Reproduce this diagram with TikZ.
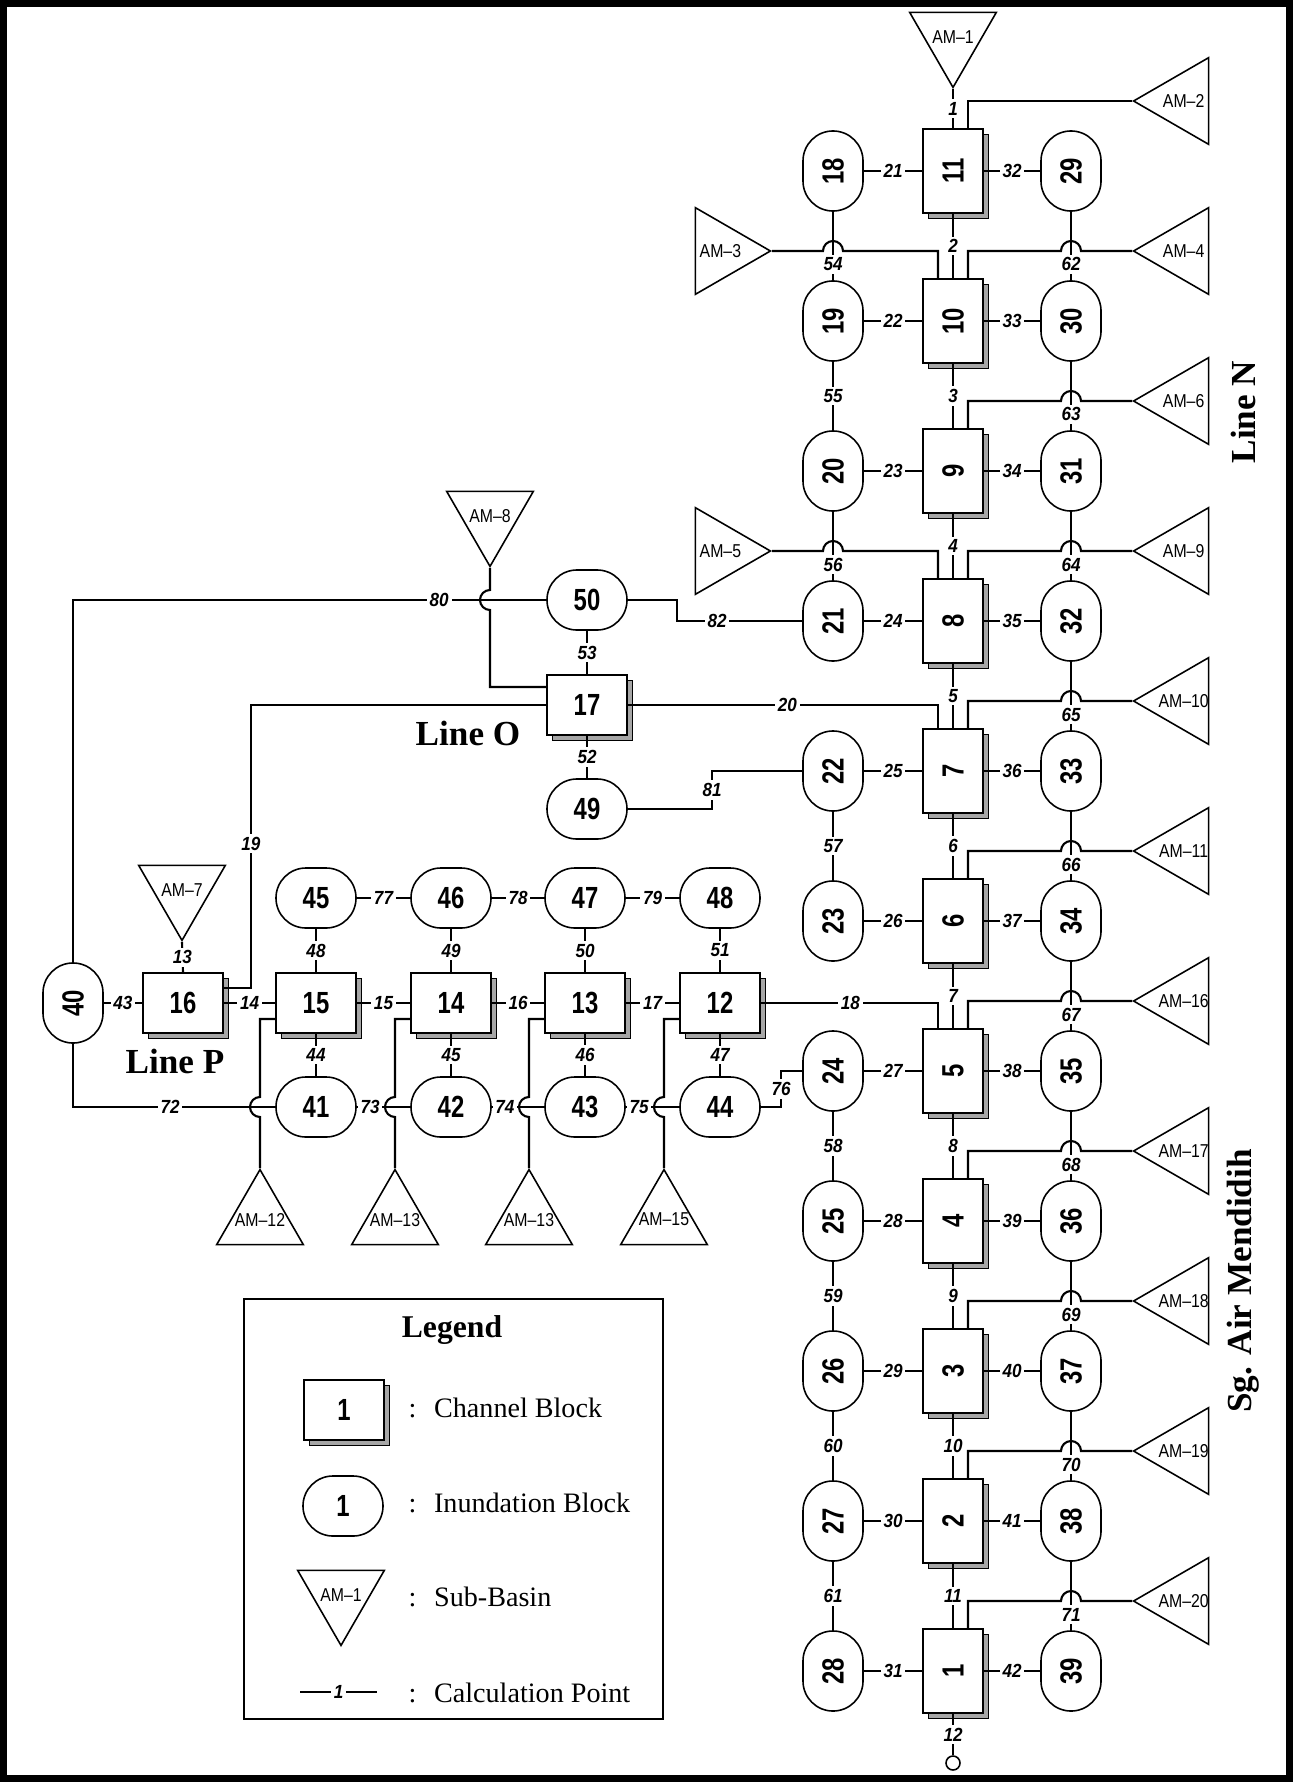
\documentclass[tikz,border=0pt]{standalone}
\usepackage{fontspec}
\setmainfont{Liberation Serif}
\newfontfamily\blkfont[FakeStretch=0.78]{Liberation Sans}
\newfontfamily\cpfont[FakeStretch=0.9]{Liberation Sans}
\newfontfamily\amfont[FakeStretch=0.85]{Liberation Sans}
\usepackage{graphicx}
\usepackage{tikz}
\usetikzlibrary{positioning,shapes.geometric,shadows}
\newcommand{\vnum}[1]{\rotatebox{90}{#1}}
\newcommand{\am}[1]{\makebox[0pt]{AM–#1}}

\begin{document}
\begin{tikzpicture}[
  x=0.01cm, y=-0.01cm,
  chv/.style={draw,fill=white,line width=0.45pt,minimum width=6mm,minimum height=8.4mm,inner sep=0pt,font=\blkfont\bfseries\fontsize{8.7}{9}\selectfont,general shadow={shadow xshift=0.55mm,shadow yshift=-0.55mm,fill=gray!70,draw=black,line width=0.3pt}},
  chh/.style={chv,minimum width=8mm,minimum height=6mm},
  inv/.style={draw,fill=white,rounded corners=3mm,line width=0.45pt,minimum width=6mm,minimum height=8mm,inner sep=0pt,font=\blkfont\bfseries\fontsize{8.7}{9}\selectfont},
  inh/.style={inv,minimum width=8mm,minimum height=6mm},
  basin/.style={draw,regular polygon,regular polygon sides=3,minimum size=10mm,inner sep=0pt,line width=0.45pt,anchor=corner 1,font=\amfont\fontsize{5.3}{6}\selectfont},
  cp/.style={fill=white,inner sep=0.8pt,font=\cpfont\bfseries\itshape\fontsize{5.4}{5.4}\selectfont},
  link/.style={line width=0.6pt},
  ttl/.style={font=\bfseries\fontsize{10}{12}\selectfont},
  leg/.style={anchor=west,inner sep=0pt,font=\fontsize{8}{10}\selectfont}
]
\useasboundingbox (0,0) rectangle (1296,1782);
\draw[line width=0.7mm] (3.5,4) rectangle (1289,1778);

% Line N / Sg. Air Mendidih : channel blocks
\node[chv] (c11) at (953,171) {\vnum{11}};
\node[chv] (c10) at (953,321) {\vnum{10}};
\node[chv] (c9) at (953,471) {\vnum{9}};
\node[chv] (c8) at (953,621) {\vnum{8}};
\node[chv] (c7) at (953,771) {\vnum{7}};
\node[chv] (c6) at (953,921) {\vnum{6}};
\node[chv] (c5) at (953,1071) {\vnum{5}};
\node[chv] (c4) at (953,1221) {\vnum{4}};
\node[chv] (c3) at (953,1371) {\vnum{3}};
\node[chv] (c2) at (953,1521) {\vnum{2}};
\node[chv] (c1) at (953,1671) {\vnum{1}};
\node[draw,circle,minimum size=1.4mm,inner sep=0pt,line width=0.45pt] (outlet) at (953,1763) {};

% inundation blocks, left and right of the main line
\node[inv] (i18) at (833,171) {\vnum{18}};
\node[inv] (i19) at (833,321) {\vnum{19}};
\node[inv] (i20) at (833,471) {\vnum{20}};
\node[inv] (i21) at (833,621) {\vnum{21}};
\node[inv] (i22) at (833,771) {\vnum{22}};
\node[inv] (i23) at (833,921) {\vnum{23}};
\node[inv] (i24) at (833,1071) {\vnum{24}};
\node[inv] (i25) at (833,1221) {\vnum{25}};
\node[inv] (i26) at (833,1371) {\vnum{26}};
\node[inv] (i27) at (833,1521) {\vnum{27}};
\node[inv] (i28) at (833,1671) {\vnum{28}};
\node[inv] (i29) at (1071,171) {\vnum{29}};
\node[inv] (i30) at (1071,321) {\vnum{30}};
\node[inv] (i31) at (1071,471) {\vnum{31}};
\node[inv] (i32) at (1071,621) {\vnum{32}};
\node[inv] (i33) at (1071,771) {\vnum{33}};
\node[inv] (i34) at (1071,921) {\vnum{34}};
\node[inv] (i35) at (1071,1071) {\vnum{35}};
\node[inv] (i36) at (1071,1221) {\vnum{36}};
\node[inv] (i37) at (1071,1371) {\vnum{37}};
\node[inv] (i38) at (1071,1521) {\vnum{38}};
\node[inv] (i39) at (1071,1671) {\vnum{39}};

% sub-basins
\node[basin,shape border rotate=180] (am1) at (953,89) {\am{1}};
\node[basin,shape border rotate=90] (am2) at (1132,101) {\am{2}};
\node[basin,shape border rotate=270] (am3) at (772,251) {\am{3}};
\node[basin,shape border rotate=90] (am4) at (1132,251) {\am{4}};
\node[basin,shape border rotate=270] (am5) at (772,551) {\am{5}};
\node[basin,shape border rotate=90] (am6) at (1132,401) {\am{6}};
\node[basin,shape border rotate=180] (am7) at (182,942) {\am{7}};
\node[basin,shape border rotate=180] (am8) at (490,568) {\am{8}};
\node[basin,shape border rotate=90] (am9) at (1132,551) {\am{9}};
\node[basin,shape border rotate=90] (am10) at (1132,701) {\am{10}};
\node[basin,shape border rotate=90] (am11) at (1132,851) {\am{11}};
\node[basin] (am12) at (260,1168) {\am{12}};
\node[basin] (am13a) at (395,1168) {\am{13}};
\node[basin] (am13b) at (529,1168) {\am{13}};
\node[basin] (am15) at (664,1168) {\am{15}};
\node[basin,shape border rotate=90] (am16) at (1132,1001) {\am{16}};
\node[basin,shape border rotate=90] (am17) at (1132,1151) {\am{17}};
\node[basin,shape border rotate=90] (am18) at (1132,1301) {\am{18}};
\node[basin,shape border rotate=90] (am19) at (1132,1451) {\am{19}};
\node[basin,shape border rotate=90] (am20) at (1132,1601) {\am{20}};

% Line O and Line P
\node[inh] (i50) at (587,600) {50};
\node[chh] (c17) at (587,705) {17};
\node[inh] (i49) at (587,809) {49};
\node[inv] (i40) at (73,1003) {\vnum{40}};
\node[chh] (c16) at (183,1003) {16};
\node[chh] (c15) at (316,1003) {15};
\node[chh] (c14) at (451,1003) {14};
\node[chh] (c13) at (585,1003) {13};
\node[chh] (c12) at (720,1003) {12};
\node[inh] (i45) at (316,898) {45};
\node[inh] (i46) at (451,898) {46};
\node[inh] (i47) at (585,898) {47};
\node[inh] (i48) at (720,898) {48};
\node[inh] (i41) at (316,1107) {41};
\node[inh] (i42) at (451,1107) {42};
\node[inh] (i43) at (585,1107) {43};
\node[inh] (i44) at (720,1107) {44};

\node[ttl,rotate=90] (lineN) at (1243,412) {Line N};
\node[ttl,rotate=90] (sgair) at (1243,1281) {Sg. Air Mendidih};
\node[ttl] (lineO) at (468,733) {Line O};
\node[ttl] (lineP) at (175,1061) {Line P};

% main line
\draw[link] (am1.corner 1) -- node[cp]{1} (c11.north);
\draw[link] (c11) -- node[cp]{2} (c10);
\draw[link] (c10) -- node[cp]{3} (c9);
\draw[link] (c9) -- node[cp]{4} (c8);
\draw[link] (c8) -- node[cp]{5} (c7);
\draw[link] (c7) -- node[cp]{6} (c6);
\draw[link] (c6) -- node[cp]{7} (c5);
\draw[link] (c5) -- node[cp]{8} (c4);
\draw[link] (c4) -- node[cp]{9} (c3);
\draw[link] (c3) -- node[cp]{10} (c2);
\draw[link] (c2) -- node[cp]{11} (c1);
\draw[link] (c1) -- node[cp]{12} (outlet);

% blocks to inundation blocks
\draw[link] (i18) -- node[cp]{21} (c11);
\draw[link] (i19) -- node[cp]{22} (c10);
\draw[link] (i20) -- node[cp]{23} (c9);
\draw[link] (i21) -- node[cp]{24} (c8);
\draw[link] (i22) -- node[cp]{25} (c7);
\draw[link] (i23) -- node[cp]{26} (c6);
\draw[link] (i24) -- node[cp]{27} (c5);
\draw[link] (i25) -- node[cp]{28} (c4);
\draw[link] (i26) -- node[cp]{29} (c3);
\draw[link] (i27) -- node[cp]{30} (c2);
\draw[link] (i28) -- node[cp]{31} (c1);
\draw[link] (c11) -- node[cp]{32} (i29);
\draw[link] (c10) -- node[cp]{33} (i30);
\draw[link] (c9) -- node[cp]{34} (i31);
\draw[link] (c8) -- node[cp]{35} (i32);
\draw[link] (c7) -- node[cp]{36} (i33);
\draw[link] (c6) -- node[cp]{37} (i34);
\draw[link] (c5) -- node[cp]{38} (i35);
\draw[link] (c4) -- node[cp]{39} (i36);
\draw[link] (c3) -- node[cp]{40} (i37);
\draw[link] (c2) -- node[cp]{41} (i38);
\draw[link] (c1) -- node[cp]{42} (i39);

% inundation to inundation
\draw[link] (i18) -- node[cp,pos=0.77]{54} (i19);
\draw[link] (i19) -- node[cp]{55} (i20);
\draw[link] (i20) -- node[cp,pos=0.77]{56} (i21);
\draw[link] (i22) -- node[cp]{57} (i23);
\draw[link] (i24) -- node[cp]{58} (i25);
\draw[link] (i25) -- node[cp]{59} (i26);
\draw[link] (i26) -- node[cp]{60} (i27);
\draw[link] (i27) -- node[cp]{61} (i28);
\draw[link] (i29) -- node[cp,pos=0.77]{62} (i30);
\draw[link] (i30) -- node[cp,pos=0.77]{63} (i31);
\draw[link] (i31) -- node[cp,pos=0.77]{64} (i32);
\draw[link] (i32) -- node[cp,pos=0.77]{65} (i33);
\draw[link] (i33) -- node[cp,pos=0.77]{66} (i34);
\draw[link] (i34) -- node[cp,pos=0.77]{67} (i35);
\draw[link] (i35) -- node[cp,pos=0.77]{68} (i36);
\draw[link] (i36) -- node[cp,pos=0.77]{69} (i37);
\draw[link] (i37) -- node[cp,pos=0.77]{70} (i38);
\draw[link] (i38) -- node[cp,pos=0.77]{71} (i39);

% sub-basin inflows
\draw[link] (am2.corner 1) -| ([xshift=1.5mm]c11.north);
\draw[link] (am4.corner 1) -- (1081,251) arc[start angle=0,end angle=-180,radius=10] -| ([xshift=1.5mm]c10.north);
\draw[link] (am6.corner 1) -- (1081,401) arc[start angle=0,end angle=-180,radius=10] -| ([xshift=1.5mm]c9.north);
\draw[link] (am9.corner 1) -- (1081,551) arc[start angle=0,end angle=-180,radius=10] -| ([xshift=1.5mm]c8.north);
\draw[link] (am10.corner 1) -- (1081,701) arc[start angle=0,end angle=-180,radius=10] -| ([xshift=1.5mm]c7.north);
\draw[link] (am11.corner 1) -- (1081,851) arc[start angle=0,end angle=-180,radius=10] -| ([xshift=1.5mm]c6.north);
\draw[link] (am16.corner 1) -- (1081,1001) arc[start angle=0,end angle=-180,radius=10] -| ([xshift=1.5mm]c5.north);
\draw[link] (am17.corner 1) -- (1081,1151) arc[start angle=0,end angle=-180,radius=10] -| ([xshift=1.5mm]c4.north);
\draw[link] (am18.corner 1) -- (1081,1301) arc[start angle=0,end angle=-180,radius=10] -| ([xshift=1.5mm]c3.north);
\draw[link] (am19.corner 1) -- (1081,1451) arc[start angle=0,end angle=-180,radius=10] -| ([xshift=1.5mm]c2.north);
\draw[link] (am20.corner 1) -- (1081,1601) arc[start angle=0,end angle=-180,radius=10] -| ([xshift=1.5mm]c1.north);
\draw[link] (am3.corner 1) -- (823,251) arc[start angle=180,end angle=360,radius=10] -| ([xshift=-1.5mm]c10.north);
\draw[link] (am5.corner 1) -- (823,551) arc[start angle=180,end angle=360,radius=10] -| ([xshift=-1.5mm]c8.north);
\draw[link] (am7.corner 1) -- node[cp]{13} (c16.north);
\draw[link] (am8.corner 1) -- (490,590) arc[start angle=270,end angle=90,radius=10] |- ([yshift=1.8mm]c17.west);
\draw[link] (am12.corner 1) -- (260,1117) arc[start angle=90,end angle=270,radius=10] |- ([yshift=-1.6mm]c15.west);
\draw[link] (am13a.corner 1) -- (395,1117) arc[start angle=90,end angle=270,radius=10] |- ([yshift=-1.6mm]c14.west);
\draw[link] (am13b.corner 1) -- (529,1117) arc[start angle=90,end angle=270,radius=10] |- ([yshift=-1.6mm]c13.west);
\draw[link] (am15.corner 1) -- (664,1117) arc[start angle=90,end angle=270,radius=10] |- ([yshift=-1.6mm]c12.west);

% Line O
\draw[link] (i50) -- node[cp]{53} (c17);
\draw[link] (c17) -- node[cp]{52} (i49);
\draw[link] (c17.east) -| node[cp,pos=0.257]{20} ([xshift=-1.5mm]c7.north);
\draw[link] (c17.west) -| node[cp,pos=0.745]{19} ([xshift=2.7mm,yshift=1.5mm]c16.east) -- ([yshift=1.5mm]c16.east);
\draw[link] (i50.west) -| node[cp,pos=0.113]{80} (i40.north);
\draw[link] (i50.east) -| ([xshift=-12.5mm]i21.west) -- node[cp,pos=0.32]{82} (i21.west);
\draw[link] (i49.east) -| node[cp,pos=0.75]{81} ([xshift=-9mm]i22.west) -- (i22.west);

% Line P
\draw[link] (i40) -- node[cp]{43} (c16);
\draw[link] (c16) -- node[cp]{14} (c15);
\draw[link] (c15) -- node[cp]{15} (c14);
\draw[link] (c14) -- node[cp]{16} (c13);
\draw[link] (c13) -- node[cp]{17} (c12);
\draw[link] (c12.east) -| node[cp,pos=0.253]{18} ([xshift=-1.5mm]c5.north);
\draw[link] (i45) -- node[cp]{77} (i46);
\draw[link] (i46) -- node[cp]{78} (i47);
\draw[link] (i47) -- node[cp]{79} (i48);
\draw[link] (i45) -- node[cp]{48} (c15);
\draw[link] (i46) -- node[cp]{49} (c14);
\draw[link] (i47) -- node[cp]{50} (c13);
\draw[link] (i48) -- node[cp]{51} (c12);
\draw[link] (c15) -- node[cp]{44} (i41);
\draw[link] (c14) -- node[cp]{45} (i42);
\draw[link] (c13) -- node[cp]{46} (i43);
\draw[link] (c12) -- node[cp]{47} (i44);
\draw[link] (i40.south) |- node[cp,pos=0.74]{72} (i41.west);
\draw[link] (i41) -- node[cp,pos=0.25]{73} (i42);
\draw[link] (i42) -- node[cp,pos=0.25]{74} (i43);
\draw[link] (i43) -- node[cp,pos=0.25]{75} (i44);
\draw[link] (i44.east) -| node[cp,pos=0.75]{76} ([xshift=-2.1mm]i24.west) -- (i24.west);

% legend
\node[draw,line width=0.6pt,minimum width=4.19cm,minimum height=4.2cm] (legbox) at (453.5,1509) {};
\node[ttl,font=\bfseries\fontsize{9}{11}\selectfont] (legtitle) at (452,1330) {Legend};
\node[chh] (legch) at (344,1410) {1};
\node[leg] (legcht) at (408,1408) {:\hspace{5pt}Channel Block};
\node[inh] (legin) at (343,1506) {1};
\node[leg] (legint) at (408,1503) {:\hspace{5pt}Inundation Block};
\node[basin,shape border rotate=180] (legsb) at (341,1647) {\am{1}};
\node[leg] (legsbt) at (408,1597) {:\hspace{5pt}Sub-Basin};
\coordinate (legcpa) at (300,1692);
\coordinate (legcpb) at (377,1692);
\draw[link] (legcpa) -- node[cp]{1} (legcpb);
\node[leg] (legcpt) at (408,1693) {:\hspace{5pt}Calculation Point};
\end{tikzpicture}
\end{document}
